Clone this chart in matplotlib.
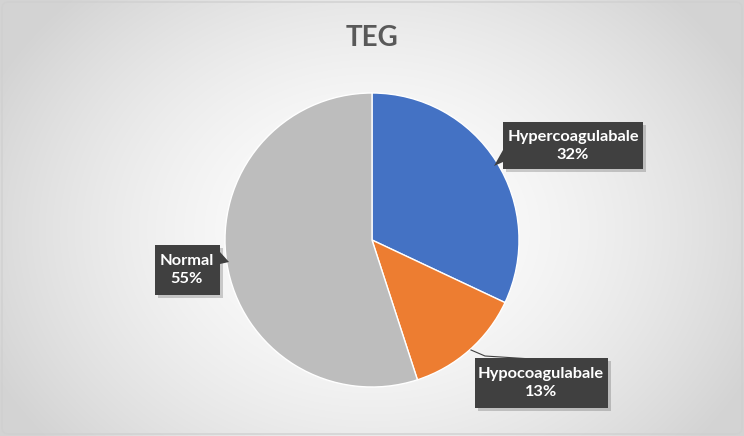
import numpy as np
import matplotlib.pyplot as plt
from matplotlib.patches import FancyBboxPatch, Polygon

categories = ['Hypercoagulabale', 'Hypocoagulabale', 'Normal']
values = [32, 13, 55]
colors = ['#4472C4', '#ED7D31', '#BDBDBD']
title = 'TEG'

W, H = 744, 436
fig = plt.figure(figsize=(W / 100, H / 100), dpi=100)

# radial gradient background
bg = fig.add_axes([0, 0, 1, 1])
yy, xx = np.mgrid[0:H, 0:W]
r = np.sqrt(((xx - 372) / 420.0) ** 2 + ((yy - 230) / 330.0) ** 2)
shade = 1.0 - 0.17 * np.clip(r, 0, 1) ** 1.6
bg.imshow(np.dstack([shade, shade, shade]), extent=[0, W, 0, H], aspect='auto')
bg.set_xlim(0, W)
bg.set_ylim(0, H)
bg.axis('off')

ax = fig.add_axes([0, 0, 1, 1])
ax.patch.set_alpha(0)

cx, cy, rad = 372, H - 240, 147
ax.pie(values, colors=colors, startangle=90, counterclock=False,
       center=(cx, cy), radius=rad, frame=True,
       wedgeprops=dict(edgecolor='white', linewidth=1))
ax.set_xlim(0, W)
ax.set_ylim(0, H)
ax.axis('off')

ax.text(372, H - 38, title, ha='center', va='center', fontsize=20,
        fontweight='bold', color='#595959', family='Lato')

# label boxes: (center x, center y, width, height) in image pixels
boxes = [(573, 146, 140, 47), (541, 383, 133, 50), (187, 270, 65, 50)]
pointers = [
    [(503, 150), (503, 162), (494, 166)],
    None,
    [(220, 252), (220, 264), (229, 262)],
]
for (bx, by, bw, bh), name, v, ptr in zip(boxes, categories, values, pointers):
    y0 = H - by - bh / 2
    x0 = bx - bw / 2
    ax.add_patch(FancyBboxPatch((x0 + 3, y0 - 3), bw, bh, boxstyle='square,pad=0',
                                facecolor='#000000', alpha=0.18, edgecolor='none'))
    ax.add_patch(FancyBboxPatch((x0, y0), bw, bh, boxstyle='square,pad=0',
                                facecolor='#404040', edgecolor='none'))
    if ptr:
        ax.add_patch(Polygon([(px, H - py) for px, py in ptr], closed=True,
                             facecolor='#404040', edgecolor='none'))
    ax.text(bx, H - by, f'{name}\n{v}%', ha='center', va='center', color='white',
            fontsize=11.8, fontweight='bold', family='Lato', linespacing=1.4)

# leader line for the small slice
ax.plot([471, 485, 532], [H - 350, H - 356, H - 359], color='#404040', lw=0.8)

# chart border
ax.add_patch(FancyBboxPatch((2, 2), W - 4, H - 4, boxstyle='round,pad=0,rounding_size=6',
                            facecolor='none', edgecolor='#D0D0D0', lw=1))

fig.savefig('out.png', dpi=100)
